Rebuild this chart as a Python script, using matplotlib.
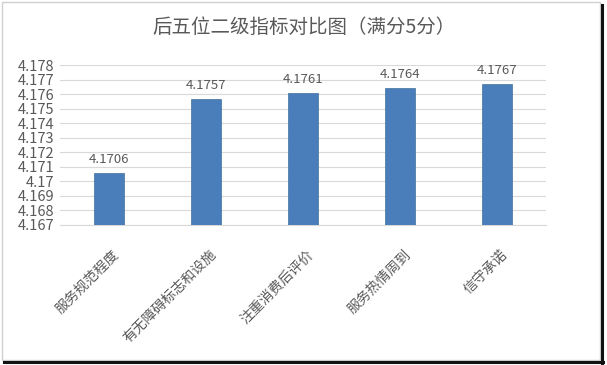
import matplotlib.pyplot as plt
from matplotlib.ticker import MultipleLocator, FuncFormatter
from matplotlib.transforms import ScaledTranslation
import matplotlib.patches as mpatches
import matplotlib.lines as mlines

plt.rcParams['font.family'] = ['Noto Sans CJK SC', 'DejaVu Sans']

categories = ['服务规范程度', '有无障碍标志和设施', '注重消费后评价', '服务热情周到', '信守承诺']
values = [4.1706, 4.1757, 4.1761, 4.1764, 4.1767]
value_labels = ['4.1706', '4.1757', '4.1761', '4.1764', '4.1767']

grey = '#595959'
W, H = 607, 365

fig = plt.figure(figsize=(6.07, 3.65), dpi=100)
ax = fig.add_axes([0.0988, 0.3836, 0.8007, 0.438])

x = range(len(categories))
bars = ax.bar(x, [v - 4.167 for v in values], bottom=4.167, width=0.31,
              color='#4a7ebb', edgecolor='#41719c', linewidth=0.5, zorder=3)

for b, lab in zip(bars, value_labels):
    ax.annotate(lab, (b.get_x() + b.get_width() / 2, b.get_y() + b.get_height()),
                xytext=(0, 5), textcoords='offset points', ha='center', va='bottom',
                fontsize=9.5, color=grey)

ax.set_ylim(4.167, 4.178)
ax.set_xlim(-0.5, len(categories) - 0.5)
ax.yaxis.set_major_locator(MultipleLocator(0.001))
ax.yaxis.set_major_formatter(FuncFormatter(lambda v, p: ('%.3f' % v).rstrip('0').rstrip('.')))
ax.grid(axis='y', color='#d9d9d9', linewidth=0.8, zorder=0)
for s in ['top', 'right', 'left']:
    ax.spines[s].set_visible(False)
ax.spines['bottom'].set_color('#d9d9d9')
ax.tick_params(axis='y', length=0, colors=grey, labelsize=10.5, pad=4)
ax.tick_params(axis='x', length=0, colors=grey, pad=6)

ax.set_xticks(list(x))
ax.set_xticklabels(categories, rotation=45, ha='right', rotation_mode='anchor',
                   fontsize=10, color=grey)
shift = ScaledTranslation(3 / 100, -14 / 100, fig.dpi_scale_trans)
for t in ax.get_xticklabels():
    t.set_transform(t.get_transform() + shift)

fig.text(0.5, 0.926, '后五位二级指标对比图（满分5分）', ha='center', va='center',
         fontsize=14, color=grey)

# outer frame with dark shadow on right and bottom
fig.patches.append(mpatches.Rectangle((2 / W, 1 - 360 / H), 598 / W, 358 / H,
                                      transform=fig.transFigure, fill=False,
                                      edgecolor='#d0d0d0', linewidth=1))
fig.lines.append(mlines.Line2D([602 / W, 602 / W], [0, 1 - 5 / H], transform=fig.transFigure,
                               color='#111111', linewidth=2.2))
fig.lines.append(mlines.Line2D([4 / W, 603 / W], [1 - 362 / H, 1 - 362 / H],
                               transform=fig.transFigure, color='#111111', linewidth=2.2))

fig.savefig('out.png', dpi=100)
